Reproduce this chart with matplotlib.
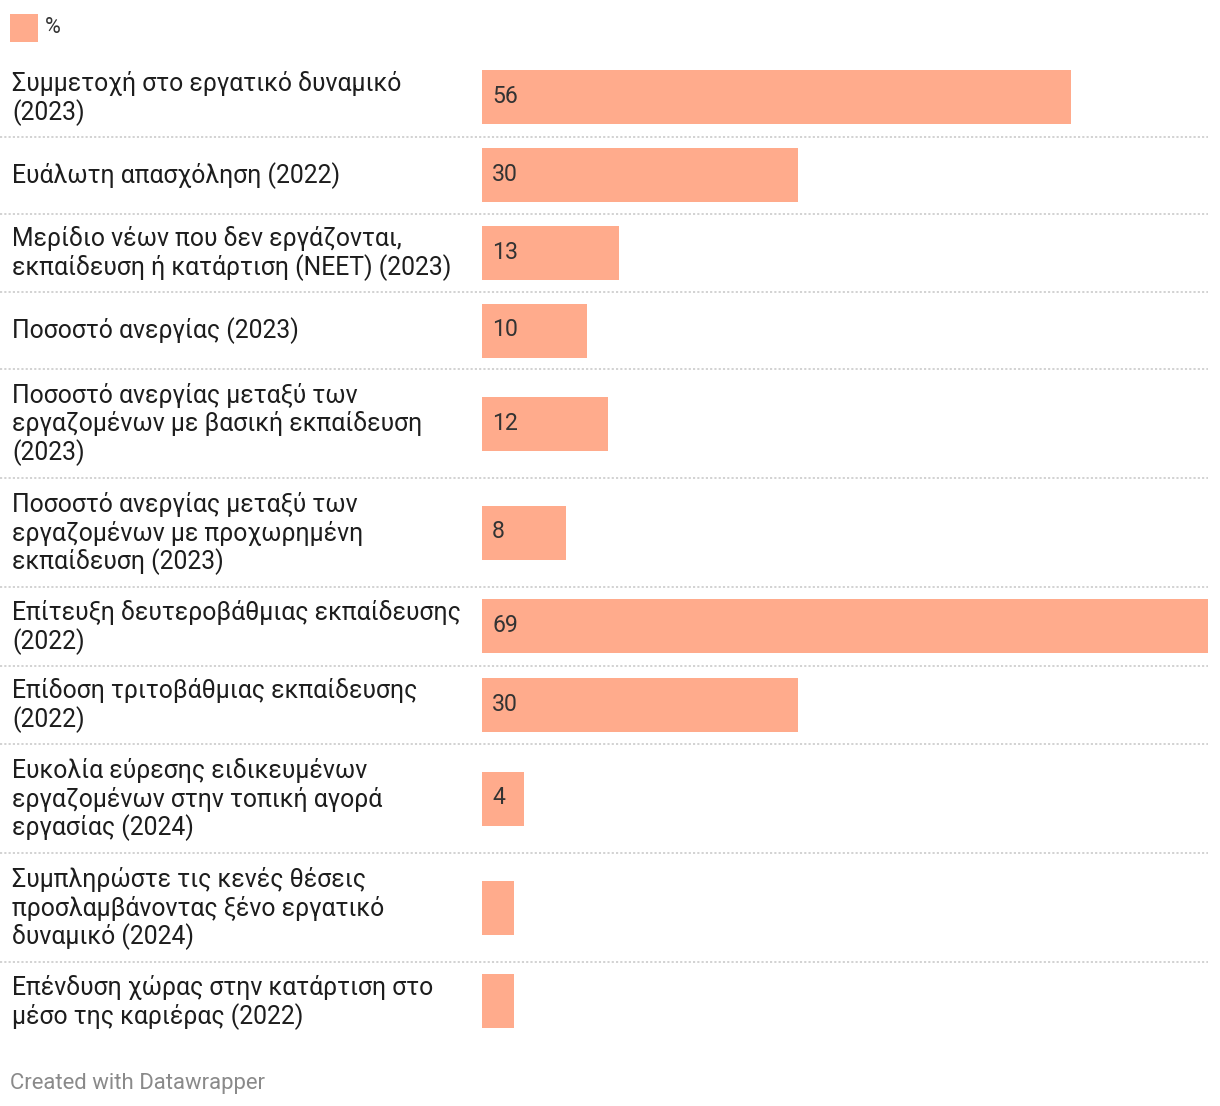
import matplotlib
matplotlib.use('Agg')
import matplotlib.pyplot as plt
import matplotlib.transforms as mtransforms
from matplotlib.patches import Rectangle

# Data
labels = [
    'Συμμετοχή στο εργατικό δυναμικό\n(2023)',
    'Ευάλωτη απασχόληση (2022)',
    'Μερίδιο νέων που δεν εργάζονται,\nεκπαίδευση ή κατάρτιση (NEET) (2023)',
    'Ποσοστό ανεργίας (2023)',
    'Ποσοστό ανεργίας μεταξύ των\nεργαζομένων με βασική εκπαίδευση\n(2023)',
    'Ποσοστό ανεργίας μεταξύ των\nεργαζομένων με προχωρημένη\nεκπαίδευση (2023)',
    'Επίτευξη δευτεροβάθμιας εκπαίδευσης\n(2022)',
    'Επίδοση τριτοβάθμιας εκπαίδευσης\n(2022)',
    'Ευκολία εύρεσης ειδικευμένων\nεργαζομένων στην τοπική αγορά\nεργασίας (2024)',
    'Συμπληρώστε τις κενές θέσεις\nπροσλαμβάνοντας ξένο εργατικό\nδυναμικό (2024)',
    'Επένδυση χώρας στην κατάρτιση στο\nμέσο της καριέρας (2022)',
]
values = [56, 30, 13, 10, 12, 8, 69, 30, 4, 3, 3]
value_labels = ['56', '30', '13', '10', '12', '8', '69', '30', '4', '', '']
legend_label = '%'
footer = 'Created with Datawrapper'

# Style
W, H = 1220, 1106
barColor = '#ffab8c'
textColor = '#1d1d1d'
valColor = '#333333'
sepColor = '#d2d2d2'
plt.rcParams['font.family'] = ['Roboto', 'DejaVu Sans']

# Row layout (pixels), row height depends on number of label lines
rowH = {1: 77, 2: 78.5, 3: 109}
linePitch = 28.8
barH = 54
top = 58
centers = []
seps = []
for lab in labels:
    n = lab.count('\n') + 1
    centers.append(top + rowH[n] / 2)
    top += rowH[n]
    seps.append(top)
seps = seps[:-1]

fig = plt.figure(figsize=(W / 100, H / 100), dpi=100)
ax = fig.add_axes([482 / W, 0, (1208 - 482) / W, 1])
ax.set_xlim(0, max(values))
ax.set_ylim(H, 0)
ax.axis('off')

ax.barh(centers, values, height=barH, color=barColor, linewidth=0)

lblTrans = mtransforms.blended_transform_factory(fig.transFigure, ax.transData)
for lab, c, v, vl in zip(labels, centers, values, value_labels):
    lines = lab.split('\n')
    n = len(lines)
    for i, line in enumerate(lines):
        yb = c + (i - (n - 1) / 2) * linePitch + 8
        ax.text(12 / W, yb, line, transform=lblTrans, fontsize=17.8, color=textColor,
                ha='left', va='baseline')
    if vl:
        ax.text(492 / W, c + 6, vl, transform=lblTrans, fontsize=16.6, color=valColor,
                ha='left', va='baseline')

# Dotted separators
for s in seps:
    ax.plot([0, 1208 / W], [s, s], transform=lblTrans, color=sepColor, lw=1.4,
            linestyle=(0, (1.1, 1.1)), clip_on=False)

# Legend
fig.patches.append(Rectangle((10 / W, 1 - 42 / H), 28 / W, 28 / H, transform=fig.transFigure,
                             facecolor=barColor, edgecolor='none'))
fig.text(45 / W, 1 - 33 / H, legend_label, fontsize=15.5, color=valColor, ha='left', va='baseline')

# Footer
fig.text(10 / W, 1 - 1089 / H, footer, fontsize=15.9, color='#8a8a8a', ha='left', va='baseline')

fig.savefig('out.png', dpi=100)
